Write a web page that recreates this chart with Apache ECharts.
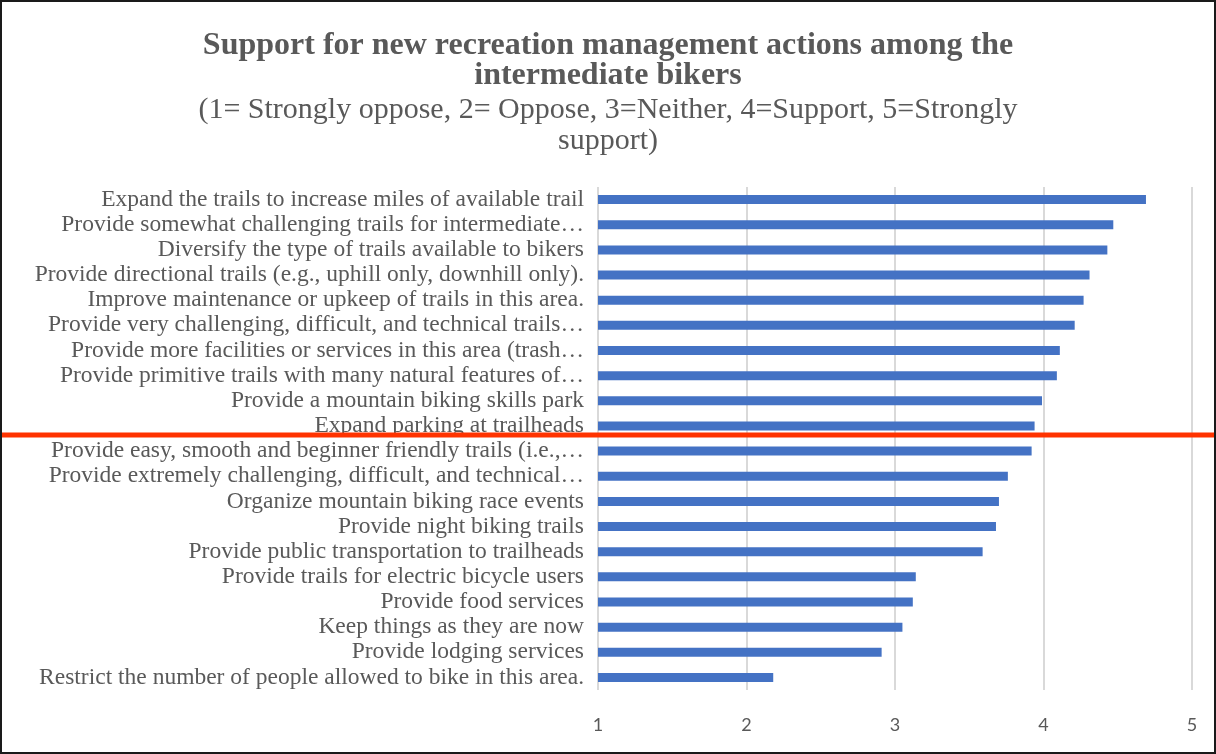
<!DOCTYPE html>
<html>
<head>
<meta charset="utf-8">
<script src="https://cdn.jsdelivr.net/npm/echarts@6/dist/echarts.min.js"></script>
<style>
  html, body { margin: 0; padding: 0; background: #fff; }
  #frame { width: 1216px; height: 754px; box-sizing: border-box; border: 2px solid #1a1a1a; }
  #chart { width: 100%; height: 100%; }
</style>
</head>
<body>
<div id="frame"><div id="chart"></div></div>
<script>
// Management actions, listed top to bottom
const actions = [
  'Expand the trails to increase miles of available trail',
  'Provide somewhat challenging trails for intermediate\u2026',
  'Diversify the type of trails available to bikers',
  'Provide directional trails (e.g., uphill only, downhill only).',
  'Improve maintenance or upkeep of trails in this area.',
  'Provide very challenging, difficult, and technical trails\u2026',
  'Provide more facilities or services in this area (trash\u2026',
  'Provide primitive trails with many natural features of\u2026',
  'Provide a mountain biking skills park',
  'Expand parking at trailheads',
  'Provide easy, smooth and beginner friendly trails (i.e.,\u2026',
  'Provide extremely challenging, difficult, and technical\u2026',
  'Organize mountain biking race events',
  'Provide night biking trails',
  'Provide public transportation to trailheads',
  'Provide trails for electric bicycle users',
  'Provide food services',
  'Keep things as they are now',
  'Provide lodging services',
  'Restrict the number of people allowed to bike in this area.'
];

// Mean support score (1-5) for each action
const meanSupport = [
  4.69, 4.47, 4.43, 4.31, 4.27, 4.21, 4.11, 4.09, 3.99, 3.94,
  3.92, 3.76, 3.70, 3.68, 3.59, 3.14, 3.12, 3.05, 2.91, 2.18
];

const scaleMin = 1;
const scaleMax = 5;
const scaleStep = 1;

const chart = echarts.init(document.getElementById('chart'));
const grey = '#595959';

chart.setOption({
  animation: false,
  title: [
    {
      text: 'Support for new recreation management actions among the\nintermediate bikers',
      left: 'center',
      top: 24,
      textStyle: {
        fontFamily: 'Liberation Serif',
        fontWeight: 'bold',
        fontSize: 32,
        lineHeight: 30,
        color: grey
      }
    },
    {
      text: '(1= Strongly oppose, 2= Oppose, 3=Neither, 4=Support, 5=Strongly\nsupport)',
      left: 'center',
      top: 88,
      textStyle: {
        fontFamily: 'Liberation Serif',
        fontWeight: 'normal',
        fontSize: 30,
        lineHeight: 31,
        color: grey
      }
    }
  ],
  grid: { left: 596, right: 22, top: 185, bottom: 62, containLabel: false },
  xAxis: {
    type: 'value',
    min: scaleMin,
    max: scaleMax,
    interval: scaleStep,
    axisLine: { show: false },
    axisTick: { show: false },
    splitLine: { show: true, lineStyle: { color: '#d9d9d9', width: 2 } },
    axisLabel: {
      margin: 26,
      fontFamily: 'Lato',
      fontSize: 18,
      color: grey
    }
  },
  yAxis: {
    type: 'category',
    inverse: true,
    data: actions,
    axisLine: { show: false },
    axisTick: { show: false },
    axisLabel: {
      interval: 0,
      margin: 14,
      fontFamily: 'Liberation Serif',
      fontSize: 23.5,
      color: grey
    }
  },
  series: [{
    type: 'bar',
    data: meanSupport,
    barWidth: 9,
    itemStyle: { color: '#4472C4' }
  }],
  graphic: [{
    type: 'line',
    shape: { x1: 0, y1: 433, x2: 1216, y2: 433 },
    style: { stroke: '#FF3300', lineWidth: 5 },
    z: 100
  }]
});
</script>
</body>
</html>
